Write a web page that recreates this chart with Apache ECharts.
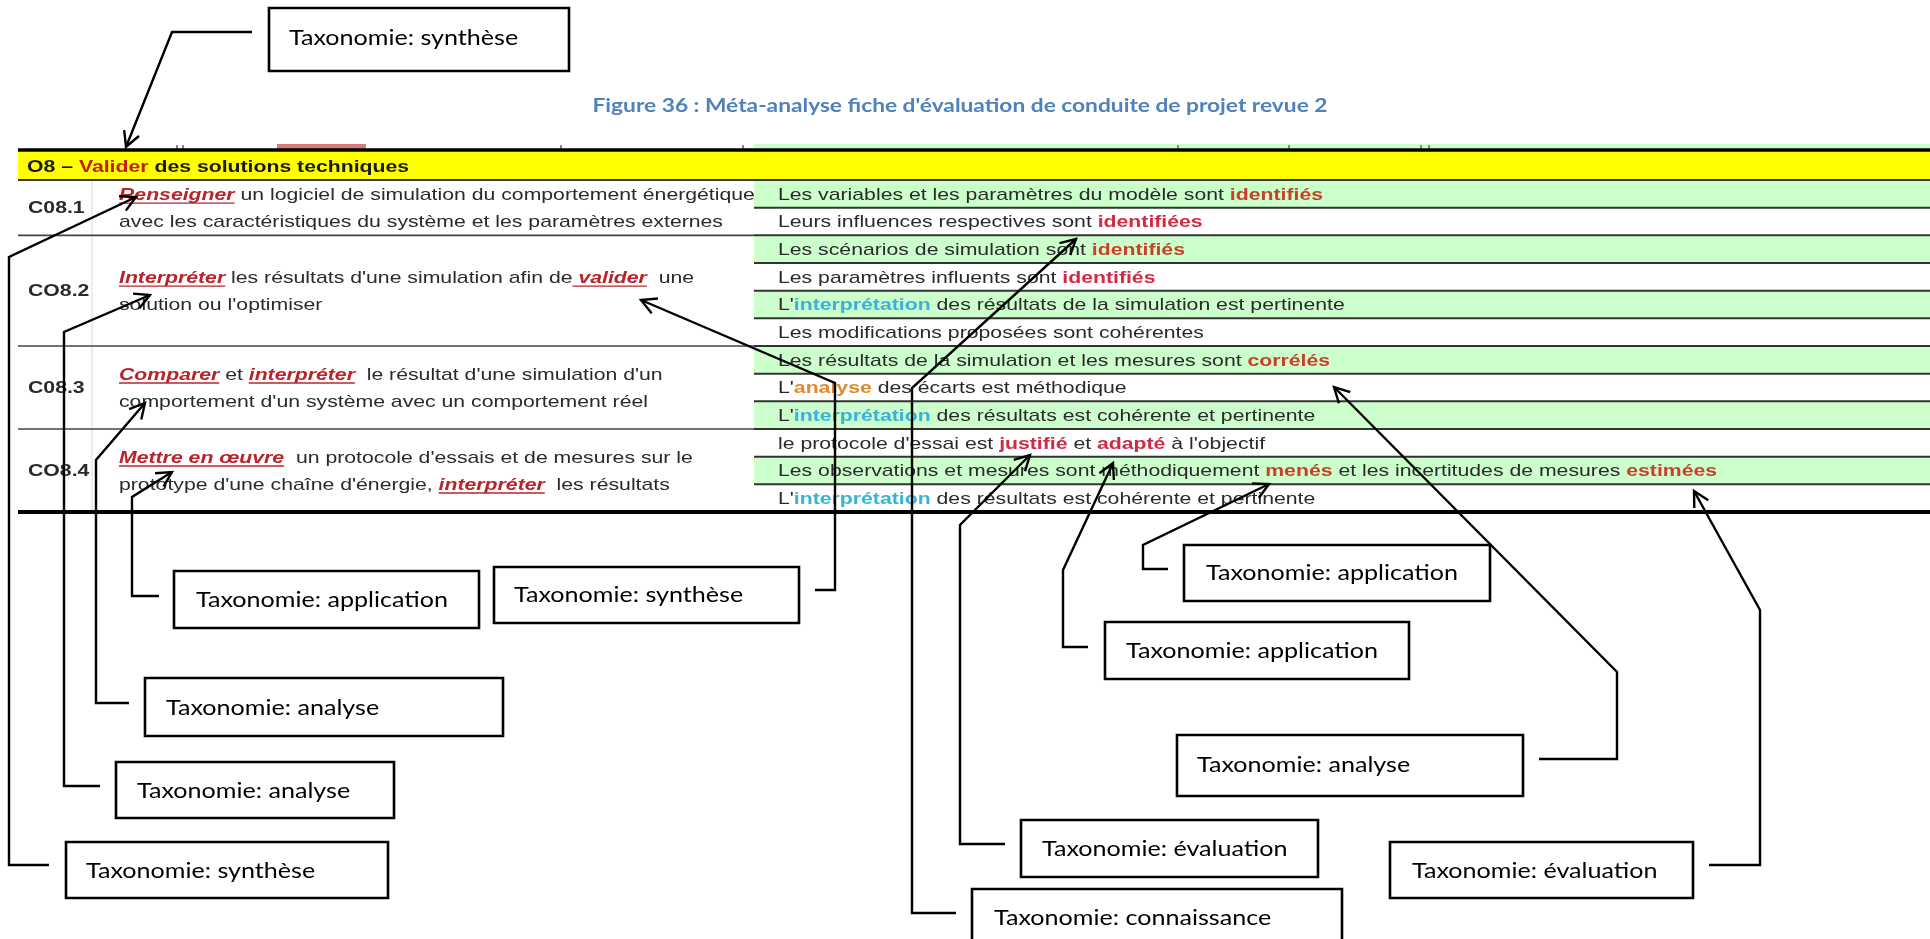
<!DOCTYPE html>
<html><head><meta charset="utf-8">
<script src="https://cdn.jsdelivr.net/npm/echarts@6/dist/echarts.min.js"></script>
<style>html,body{margin:0;padding:0;background:#fff;}#c{width:1930px;height:939px;}</style>
</head><body><div id="c"></div>
<script>
// ---------------- content ----------------
const titleText = "Figure 36 : Méta-analyse fiche d'évaluation de conduite de projet revue 2";
const objectiveText = [["O8 – ","h"],["Valider","hv"],[" des solutions techniques","h"]];
const competencyCodes = ["C08.1","CO8.2","C08.3","CO8.4"];
const competencyRowSpans = [2,4,3,3];
const competencyLines = [
  [ [["Renseigner","v"],[" un logiciel de simulation du comportement énergétique","n"]],
    [["avec les caractéristiques du système et les paramètres externes","n"]] ],
  [ [["Interpréter","v"],[" les résultats d'une simulation afin de","n"],[" valider","v"],["  une","n"]],
    [["solution ou l'optimiser","n"]] ],
  [ [["Comparer","v"],[" et ","n"],["interpréter","v"],["  le résultat d'une simulation d'un","n"]],
    [["comportement d'un système avec un comportement réel","n"]] ],
  [ [["Mettre en œuvre","v"],["  un protocole d'essais et de mesures sur le","n"]],
    [["prototype d'une chaîne d'énergie, ","n"],["interpréter","v"],["  les résultats","n"]] ]
];
const criteria = [
  [["Les variables et les paramètres du modèle sont ","n"],["identifiés","r"]],
  [["Leurs influences respectives sont ","n"],["identifiées","r2"]],
  [["Les scénarios de simulation sont ","n"],["identifiés","r"]],
  [["Les paramètres influents sont ","n"],["identifiés","r2"]],
  [["L'","n"],["interprétation","c"],[" des résultats de la simulation est pertinente","n"]],
  [["Les modifications proposées sont cohérentes","n"]],
  [["Les résultats de la simulation et les mesures sont ","n"],["corrélés","r"]],
  [["L'","n"],["analyse","o"],[" des écarts est méthodique","n"]],
  [["L'","n"],["interprétation","c"],[" des résultats est cohérente et pertinente","n"]],
  [["le protocole d'essai est ","n"],["justifié","r2"],[" et ","n"],["adapté","r2"],[" à l'objectif","n"]],
  [["Les observations et mesures sont méthodiquement ","n"],["menés","r"],[" et les incertitudes de mesures ","n"],["estimées","r"]],
  [["L'","n"],["interprétation","c"],[" des résultats est cohérente et pertinente","n"]]
];
const taxonomyPrefix = "Taxonomie: ";
const taxonomyLabels = ["synthèse","synthèse","analyse","analyse","application","synthèse",
                        "connaissance","évaluation","application","application","analyse","évaluation"];

// ---------------- layout (pixels) ----------------
const TBL = {left:18, right:1930, split:754, codeX:28, textX:119, critX:778,
             topLine:150, yellowTop:151.5, rowTop:180, bottom:512};
const rowH = (TBL.bottom - TBL.rowTop) / criteria.length;
const boxes = [
  {x:269,y:8,w:300,h:63,tx:289,ty:38},
  {x:66,y:842,w:322,h:56,tx:86,ty:871},
  {x:116,y:762,w:278,h:56,tx:137,ty:791},
  {x:145,y:678,w:358,h:58,tx:166,ty:708},
  {x:174,y:571,w:305,h:57,tx:196,ty:600},
  {x:494,y:567,w:305,h:56,tx:514,ty:595},
  {x:972,y:889,w:370,h:60,tx:994,ty:918},
  {x:1021,y:820,w:297,h:57,tx:1042,ty:849},
  {x:1105,y:622,w:304,h:57,tx:1126,ty:651},
  {x:1184,y:545,w:306,h:56,tx:1206,ty:573},
  {x:1177,y:735,w:346,h:61,tx:1197,ty:765},
  {x:1390,y:842,w:303,h:56,tx:1412,ty:871}
];
const connectors = [
  [[252,32],[172,32],[126,147]],
  [[49,865],[9,865],[9,257],[136,197]],
  [[100,786],[64,786],[64,332],[150,295]],
  [[129,703],[96,703],[96,460],[145,403]],
  [[159,596],[132,596],[132,497],[172,472]],
  [[815,590],[835,590],[835,383],[641,300]],
  [[956,913],[912,913],[912,388],[1076,239]],
  [[1005,844],[960,844],[960,525],[1030,455]],
  [[1088,647],[1063,647],[1063,570],[1113,463]],
  [[1168,569],[1143,569],[1143,545],[1269,484]],
  [[1539,759],[1617,759],[1617,672],[1334,387]],
  [[1709,865],[1760,865],[1760,610],[1694,491]]
];

// ---------------- styles ----------------
const ARIAL = '"Liberation Sans", Arial, sans-serif';
const CAL = 'Lato, "Open Sans", sans-serif';
const ST = {
  n:  {size:17, family:ARIAL, color:'#2a2a2a'},
  v:  {size:17, family:ARIAL, color:'#b8242c', bold:true, italic:true, underline:true},
  r:  {size:17, family:ARIAL, color:'#c9402a', bold:true},
  r2: {size:17, family:ARIAL, color:'#d02a45', bold:true},
  c:  {size:17, family:ARIAL, color:'#38b2da', bold:true},
  o:  {size:17, family:ARIAL, color:'#e08a2c', bold:true},
  h:  {size:17, family:ARIAL, color:'#1a1a1a', bold:true},
  hv: {size:17, family:ARIAL, color:'#c0201c', bold:true},
  lab:{size:17, family:ARIAL, color:'#2a2a2a', bold:true},
  box:{size:21, family:CAL, color:'#000'},
  title:{size:19, family:CAL, color:'#4f81bd', bold:true}
};
const mctx = document.createElement('canvas').getContext('2d');
function fontStr(st){ return (st.italic?'italic ':'')+(st.bold?'bold ':'')+st.size+'px '+st.family; }
function measure(t, st){ mctx.font = fontStr(st); return mctx.measureText(t).width; }
function lineWidthOf(parts){ return parts.reduce((s,p)=>s+measure(p[0],ST[p[1]]),0); }

const els = [];
function textEl(x, y, t, st, sx, z){
  els.push({type:'text', x:x, y:y, scaleX:sx, z:z||3, silent:true,
    style:{text:t, fill:st.color, fontSize:st.size, fontFamily:st.family,
      fontWeight:st.bold?'bold':'normal', fontStyle:st.italic?'italic':'normal',
      textAlign:'left', textVerticalAlign:'middle', align:'left', verticalAlign:'middle'}});
}
function drawLine(x, y, parts, sx){
  let cx = x;
  parts.forEach(p=>{
    const st = ST[p[1]];
    const w = measure(p[0], st)*sx;
    textEl(cx, y, p[0], st, sx, 3);
    if (st.underline){
      els.push({type:'line', z:3, silent:true, shape:{x1:cx, y1:y+8, x2:cx+w, y2:y+8},
        style:{stroke:st.color, lineWidth:1.3}});
    }
    cx += w;
  });
}
function rect(x,y,w,h,fill,z){ els.push({type:'rect', z:z||1, silent:true, shape:{x,y,width:w,height:h}, style:{fill}}); }
function hline(x1,x2,y,c,lw,z){ els.push({type:'line', z:z||2, silent:true, shape:{x1,y1:y,x2,y2:y}, style:{stroke:c,lineWidth:lw}}); }
function vline(x,y1,y2,c,lw,z){ els.push({type:'line', z:z||2, silent:true, shape:{x1:x,y1,x2:x,y2}, style:{stroke:c,lineWidth:lw}}); }

// scale factors (source image is horizontally stretched)
const S_TABLE = 545 / lineWidthOf(criteria[0]);
const S_BOX = 252 / measure(taxonomyPrefix+"application", ST.box);
const TITLE_W = 735;
const S_TITLE = TITLE_W / measure(titleText, ST.title);

// ---------------- title ----------------
textEl(960 - TITLE_W/2, 106, titleText, ST.title, S_TITLE, 3);

// ---------------- fragment of previous row above the table ----------------
rect(TBL.split, 144, TBL.right-TBL.split, 6, '#ccffcc', 1);
rect(277, 144, 89, 6, '#d97a7a', 1);
[[176,2],[182,2],[560,2],[742,2],[1177,2],[1288,2],[1420,2],[1428,2]].forEach(f=>rect(f[0],145,f[1],5,'#888',1));

// ---------------- table ----------------
rect(TBL.left, TBL.yellowTop, TBL.right-TBL.left, TBL.rowTop-TBL.yellowTop, '#ffff00', 1);
criteria.forEach((c,i)=>{
  const top = TBL.rowTop + i*rowH;
  if (i%2===0) rect(TBL.split, top, TBL.right-TBL.split, rowH, '#ccffcc', 1);
  drawLine(TBL.critX, top+rowH/2+1, c, S_TABLE);
  if (i>0) hline(TBL.split, TBL.right, top, '#333', 2, 2);
});
hline(TBL.left, TBL.right, TBL.rowTop, '#333', 2, 2);
hline(TBL.left, TBL.right, TBL.topLine, '#000', 3.5, 2);
hline(TBL.left, TBL.right, TBL.bottom, '#000', 4, 2);
vline(92, TBL.rowTop, TBL.bottom, '#d8d8d8', 1, 1);
drawLine(27, 167, objectiveText, S_TABLE);

let acc = 0;
competencyCodes.forEach((code,i)=>{
  const top = TBL.rowTop + acc*rowH;
  acc += competencyRowSpans[i];
  const bot = TBL.rowTop + acc*rowH;
  const mid = (top+bot)/2;
  if (i>0) hline(TBL.left, TBL.split, top, '#444', 1.6, 2);
  textEl(TBL.codeX, mid+1, code, ST.lab, S_TABLE, 3);
  drawLine(TBL.textX, mid-12.5, competencyLines[i][0], S_TABLE);
  drawLine(TBL.textX, mid+14.5, competencyLines[i][1], S_TABLE);
});

// ---------------- taxonomy boxes and arrows ----------------
function arrowHead(P, T){
  const dx=T[0]-P[0], dy=T[1]-P[1], L=Math.hypot(dx,dy), ux=dx/L, uy=dy/L;
  const len=17, a=28*Math.PI/180;
  const leg = s => { const c=Math.cos(s*a), sn=Math.sin(s*a);
    const rx=ux*c-uy*sn, ry=ux*sn+uy*c; return [T[0]-rx*len, T[1]-ry*len]; };
  return [leg(1), T, leg(-1)];
}
boxes.forEach((b,i)=>{
  els.push({type:'rect', z:6, silent:true, shape:{x:b.x,y:b.y,width:b.w,height:b.h},
    style:{fill:'#fff', stroke:'#000', lineWidth:2.6}});
  textEl(b.tx, b.ty, taxonomyPrefix+taxonomyLabels[i], ST.box, S_BOX, 7);
  const pts = connectors[i];
  els.push({type:'polyline', z:5, silent:true, shape:{points:pts}, style:{stroke:'#000', lineWidth:2.4, fill:null}});
  els.push({type:'polyline', z:5, silent:true, shape:{points:arrowHead(pts[pts.length-2], pts[pts.length-1])},
    style:{stroke:'#000', lineWidth:2.4, fill:null}});
});

const chart = echarts.init(document.getElementById('c'), null, {renderer:'canvas'});
chart.setOption({animation:false, backgroundColor:'#fff', graphic:{elements:els}});
</script></body></html>
